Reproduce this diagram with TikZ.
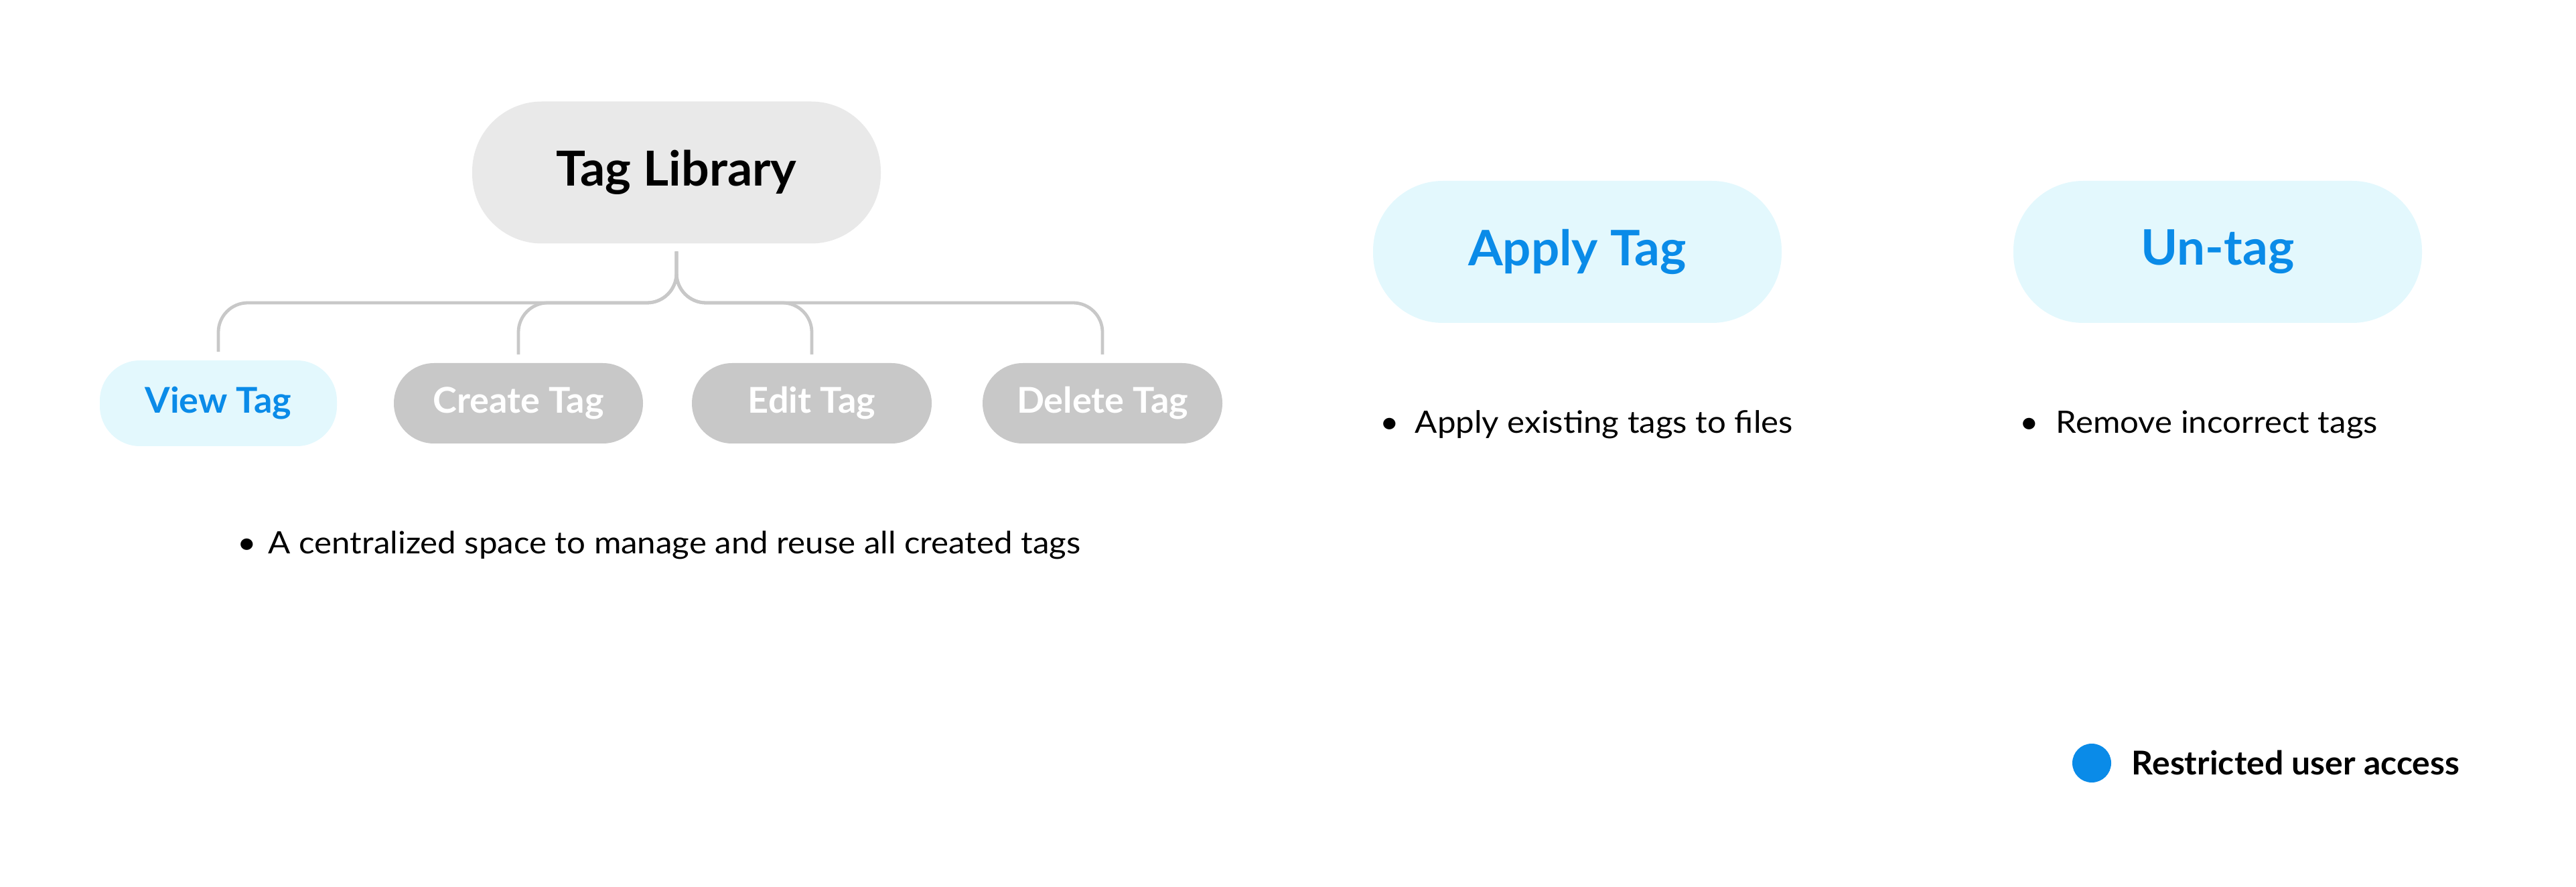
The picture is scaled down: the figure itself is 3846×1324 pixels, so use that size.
\documentclass[tikz,border=0pt]{standalone}
\usepackage{fontspec}
\setmainfont{Lato}
\newfontfamily\bodyfont{Lato}[FakeStretch=1.07]
\newfontfamily\headfont{Lato}[FakeStretch=1.02]
\usepackage{tikz}
\usetikzlibrary{positioning}
\definecolor{tagblue}{HTML}{0A8BE8}
\definecolor{tagcyan}{HTML}{E3F8FD}
\definecolor{taggray}{HTML}{C8C8C8}
\definecolor{libgray}{HTML}{E9E9E9}
\newcommand{\dotitem}[1][12.5pt]{\makebox[#1][l]{\textbullet}}

\begin{document}
\begin{tikzpicture} [x=0.25pt, y=-0.25pt, on grid,
  pill/.style ={rounded corners=26pt, minimum width=152.5pt, minimum height=53pt, inner sep=0pt},
  lib/.style ={pill, fill=libgray, font=\headfont\fontsize{18}{20}\selectfont\bfseries},
  action/.style ={pill, fill=tagcyan, text=tagblue, font=\headfont\fontsize{18.25}{20}\selectfont\bfseries},
  sub/.style ={rounded corners=15pt, minimum width=89.5pt, minimum height=30pt, inner sep=0pt, fill=taggray, text=white, font=\headfont\fontsize{13.25}{15}\selectfont\bfseries},
  desc/.style ={anchor=base west, inner sep=0pt, font=\bodyfont\fontsize{11.5}{13}\selectfont},
  branch/.style ={draw=taggray, line width=1.2pt, rounded corners=11pt, shorten <=2.75pt, shorten >=3pt}]
	\useasboundingbox (0,0) rectangle (3846,1324);
	% tag library and its sub-actions
	\node[lib] (lib) at (1010,257.5) {Tag Library};
	\node[sub, fill=tagcyan, text=tagblue, minimum height=32pt, minimum width=88.5pt] (view) at (326,602) {View Tag};
	\node[sub, minimum width=93pt] (create) [right=112pt of view] {Create Tag};
	\node[sub] (edit) [right=109.5pt of create] {Edit Tag};
	\node[sub] (delete) [right=108.5pt of edit] {Delete Tag};
	\coordinate (split) at (1010,452);
	\foreach \t in {view, create, edit, delete}
		\path[branch] (lib.south) -- (lib.south |- split) -| (\t.north);
	\node[desc] (libdesc) at (354,827) {\dotitem[11.5pt]A centralized space to manage and reuse all created tags};
	% apply / un-tag
	\node[action] (apply) at (2355,376) {Apply Tag};
	\node[action] (untag) [right=239pt of apply] {Un-tag};
	\node[desc] (applydesc) at (2060,647) {\dotitem[13pt]Apply existing tags to files};
	\node[desc] (untagdesc) at (3015,647) {\dotitem[13.5pt]Remove incorrect tags};
	% legend
	\node[circle, fill=tagblue, minimum size=14.5pt, inner sep=0pt] (dot) at (3123,1139) {};
	\node[desc, font=\headfont\fontsize{12.25}{14}\selectfont\bfseries] (legend) at (3182,1156) {Restricted user access};
\end{tikzpicture}
\end{document}
